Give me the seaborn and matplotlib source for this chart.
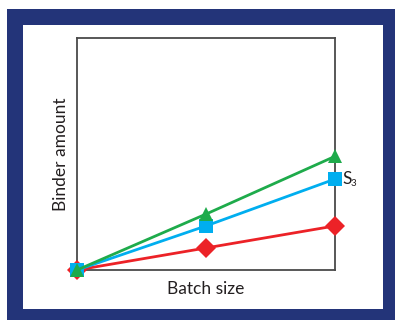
import matplotlib
matplotlib.use("Agg")
import matplotlib.pyplot as plt
from matplotlib.patches import Rectangle
import pandas as pd
import seaborn as sns

# batch size positions (relative) and binder amount for each series
batch = [0.0, 0.5, 1.0]
red_vals = [0.0, 0.095, 0.19]
cyan_vals = [0.0, 0.19, 0.392]
green_vals = [0.0, 0.241, 0.49]
series_names = ["S1", "S3", "S2"]

df = pd.DataFrame({
    "batch": batch * 3,
    "binder": red_vals + cyan_vals + green_vals,
    "series": [series_names[0]] * 3 + [series_names[1]] * 3 + [series_names[2]] * 3,
})

sns.set_style("white")
plt.rcParams["font.family"] = ["Lato", "DejaVu Sans"]

fig = plt.figure(figsize=(3.95, 3.2), dpi=100)
fig.patch.set_facecolor("white")

# navy frame with white panel
fig.add_artist(Rectangle((7 / 395, 0), 388 / 395, 311 / 320, transform=fig.transFigure,
                         facecolor="#233479", edgecolor="none", zorder=0))
fig.add_artist(Rectangle((23 / 395, 11 / 320), 360 / 395, 284 / 320, transform=fig.transFigure,
                         facecolor="white", edgecolor="none", zorder=0))

ax = fig.add_axes([77 / 395, 50 / 320, 258 / 395, 232 / 320])
ax.set_facecolor("none")

palette = {"S1": "#ec2227", "S3": "#00aeef", "S2": "#1eab4b"}
markers = {"S1": "D", "S3": "s", "S2": "^"}
sns.lineplot(data=df, x="batch", y="binder", hue="series", style="series",
             hue_order=series_names, style_order=series_names,
             palette=palette, markers=markers, dashes=False, markersize=10,
             linewidth=2, markeredgewidth=0, clip_on=False, legend=False, ax=ax)

# green on top, then cyan, red underneath
for i, ln in enumerate(ax.lines):
    ln.set_zorder(3 + i)

ax.set_xlim(0, 1)
ax.set_ylim(0, 1)
ax.set_xticks([])
ax.set_yticks([])
for s in ax.spines.values():
    s.set_color("#4a4a4a")
    s.set_linewidth(1.3)

ax.set_xlabel("Batch size", fontsize=12.5, color="#231f20", labelpad=8)
ax.set_ylabel("Binder amount", fontsize=12.5, color="#231f20", labelpad=6)

ax.text(1.03, cyan_vals[-1], "S", fontsize=12.5, color="#231f20",
        va="center", ha="left", transform=ax.get_yaxis_transform(), clip_on=False)
ax.text(1.062, cyan_vals[-1] - 0.02, "3", fontsize=7, color="#231f20",
        va="center", ha="left", transform=ax.get_yaxis_transform(), clip_on=False)

fig.savefig("out.png", dpi=100)
